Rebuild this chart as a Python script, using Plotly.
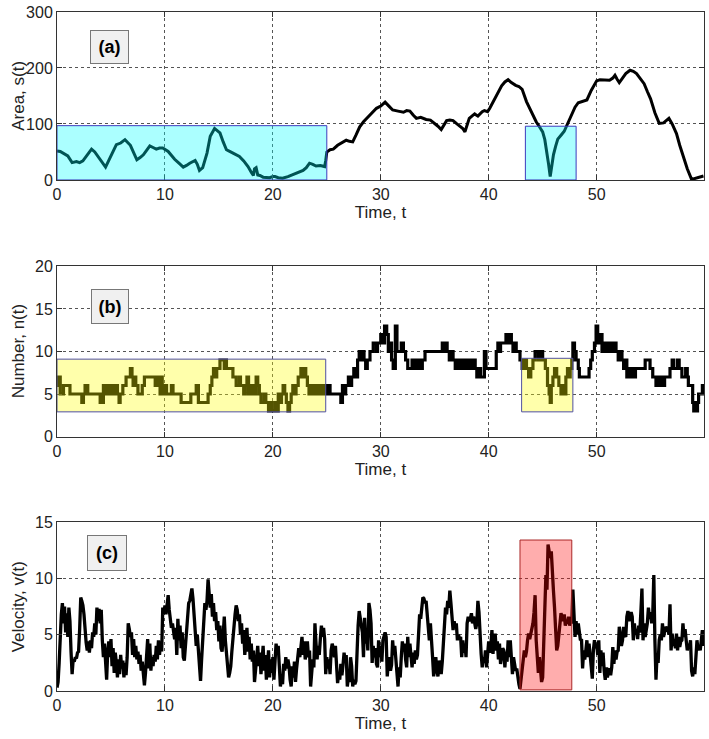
import plotly.graph_objects as go

# ---------------- Panel (a): area s(t) ----------------
area_t = [0, 0.3, 1.0, 1.4, 1.8, 2.1, 2.4, 2.8, 3.2, 3.5, 3.8, 4.2, 4.5, 4.8, 5.2, 5.5, 5.9, 6.3, 6.8, 7.1,
          7.4, 7.7, 8.0, 8.3, 8.6, 8.9, 9.2, 9.5, 9.8, 10.3, 10.6, 10.9, 11.3, 11.7, 12.0, 12.3, 12.8, 13.0,
          13.2, 13.5, 13.9, 14.2, 14.6, 15.1, 15.4, 15.7, 16.0, 16.3, 16.6, 16.9, 17.3, 17.7, 18.0, 18.2,
          18.3, 18.45, 18.6, 18.8, 19.1, 19.4, 19.7, 20.0, 20.2, 20.5, 20.9, 21.4, 21.9, 22.3, 22.8, 23.1,
          23.4, 23.7, 24.0, 24.4, 24.8, 24.9, 25.0, 25.3, 25.6, 26.0, 26.4, 26.8, 27.1, 27.4, 27.7, 28.05,
          28.4, 28.7, 29.2, 29.6, 30.0, 30.4, 30.8, 31.1, 31.6, 32.1, 32.4, 32.7, 33.0, 33.3, 33.7, 34.2,
          34.6, 35.0, 35.3, 35.6, 35.9, 36.1, 36.4, 36.7, 37.0, 37.3, 37.6, 37.8, 38.0, 38.2, 38.5, 38.7,
          39.0, 39.2, 39.4, 39.6, 39.9, 40.1, 40.5, 40.8, 41.2, 41.5, 41.8, 42.1, 42.5, 42.8, 43.1, 43.5,
          43.8, 44.1, 44.4, 44.7, 45.0, 45.2, 45.4, 45.55, 45.7, 45.85, 46.0, 46.2, 46.4, 46.7, 47.0, 47.3,
          47.7, 48.0, 48.3, 48.7, 49.1, 49.5, 50.0, 50.3, 50.6, 50.9, 51.2, 51.5, 51.7, 51.9, 52.1, 52.4,
          52.7, 53.1, 53.4, 53.7, 54.0, 54.4, 54.7, 55.0, 55.4, 55.8, 56.2, 56.7, 57.0, 57.4, 57.7, 58.0,
          58.4, 58.8, 59.1, 59.5, 59.9]
area_s = [52, 51, 43, 31, 33, 31, 34, 45, 55, 50, 42, 33, 23, 35, 51, 63, 66, 72, 62, 48,
          36, 40, 45, 53, 61, 58, 55, 57, 57, 51, 44, 37, 30, 23, 26, 30, 35, 28,
          17, 22, 48, 78, 92, 84, 68, 54, 51, 48, 46, 42, 34, 24, 14, 8,
          20, 22, 9, 8, 5, 4, 4, 6, 6, 4, 3, 6, 10, 13, 17, 22,
          30, 28, 25, 26, 24, 35, 50, 54, 55, 62, 67, 71, 69, 68, 80, 95,
          104, 110, 119, 128, 132, 139, 131, 125, 123, 121, 124, 123, 116, 110, 112, 108,
          107, 101, 96, 90, 100, 106, 107, 106, 101, 97, 92, 86, 98, 110, 115, 118,
          114, 119, 122, 124, 122, 128, 142, 154, 168, 175, 179, 174, 169, 167, 162, 140,
          127, 114, 104, 95, 86, 72, 50, 28, 6, 30, 45, 60, 73, 80, 87, 100,
          116, 130, 138, 140, 143, 160, 177, 179, 179, 178, 178, 182, 187, 180, 174, 182,
          190, 196, 194, 190, 182, 172, 158, 145, 120, 101, 102, 110, 100, 83, 62, 42,
          20, 1, 3, 5, 7]

# ---------------- Panel (b): number n(t) (step changes) ----------------
num_t = [0.0, 0.05, 0.15, 0.25, 0.3, 0.6, 1.2, 2.3, 2.45, 2.6, 2.85, 4.0, 4.1, 4.2, 4.3, 4.4, 4.6, 4.75,
         4.9, 5.0, 5.2, 5.35, 5.45, 5.6, 5.75, 5.85, 6.1, 6.4, 6.8, 6.95, 7.05, 7.2, 7.3, 7.5, 7.9, 8.1,
         9.1, 9.25, 9.4, 9.55, 9.65, 9.75, 9.9, 10.0, 10.15, 10.6, 10.75, 11.5, 12.4, 12.9, 13.1, 14.0,
         14.2, 14.35, 14.5, 14.65, 14.8, 15.1, 15.5, 15.6, 15.7, 16.3, 16.6, 16.9, 17.0, 17.3, 17.45,
         17.6, 17.75, 17.85, 18.0, 18.15, 18.3, 18.45, 18.6, 18.75, 18.9, 19.2, 19.35, 19.6, 19.75,
         19.9, 20.2, 20.35, 20.5, 20.65, 20.8, 20.95, 21.1, 21.25, 21.4, 21.55, 21.7, 21.85, 22.0,
         22.15, 22.35, 22.6, 22.75, 22.85, 23.05, 23.2, 23.35, 23.6, 23.75, 24.0, 24.2, 24.45, 24.6,
         24.85, 25.0, 25.2, 25.3, 26.3, 26.45, 26.6, 26.75, 27.0, 27.15, 27.3, 27.5, 27.65, 27.85,
         28.0, 28.15, 28.3, 28.45, 28.6, 28.75, 29.0, 29.3, 29.6, 29.7, 30.0, 30.2, 30.35, 30.55,
         30.7, 30.85, 31.0, 31.15, 31.35, 31.5, 31.9, 32.1, 32.3, 32.5, 32.9, 33.05, 33.2, 33.4,
         33.55, 33.7, 33.85, 34.1, 35.7, 35.85, 36.0, 36.15, 36.35, 36.55, 36.7, 36.9, 37.05, 37.25,
         37.45, 37.6, 37.8, 38.0, 38.2, 38.4, 38.6, 38.75, 38.9, 39.1, 39.25, 39.6, 39.75, 40.7,
         40.85, 41.0, 41.1, 41.6, 41.75, 41.95, 42.1, 42.25, 42.4, 42.55, 42.9, 43.1, 43.3, 43.5,
         43.7, 43.9, 44.1, 44.3, 44.6, 44.75, 45.0, 45.25, 45.45, 45.6, 45.7, 45.8, 45.95, 46.1,
         46.3, 46.5, 46.7, 46.85, 47.0, 47.15, 47.3, 47.45, 47.55, 47.7, 47.8, 47.95, 48.1, 48.3,
         48.4, 49.3, 49.45, 49.6, 49.8, 49.95, 50.1, 50.2, 50.35, 50.5, 50.65, 50.8, 50.95, 51.1,
         51.3, 51.45, 51.6, 51.8, 52.0, 52.2, 52.35, 52.5, 52.65, 52.8, 52.95, 53.15, 53.3, 53.45,
         53.6, 54.5, 54.95, 55.2, 55.5, 55.65, 55.8, 55.95, 56.1, 56.3, 56.8, 57.0, 57.15, 57.4,
         57.5, 57.65, 57.9, 58.25, 58.4, 58.5, 58.9, 59.0, 59.1, 59.2, 59.35, 59.45, 59.8, 59.95]
num_n = [6, 7, 6, 7, 5, 6, 5, 4, 5, 6, 5, 4, 5, 4, 6, 5, 6, 5,
         6, 5, 6, 5, 6, 5, 4, 5, 6, 7, 8, 7, 6, 7, 6, 5, 6, 7,
         6, 7, 6, 5, 7, 6, 5, 6, 5, 6, 5, 4, 5, 6, 4, 5,
         6, 7, 8, 7, 8, 9, 8, 9, 8, 7, 6, 7, 6, 5, 6,
         7, 5, 6, 5, 6, 5, 7, 6, 5, 4, 5, 4, 3, 4,
         3, 4, 3, 5, 4, 5, 6, 5, 4, 3, 4, 5, 6, 5,
         6, 7, 8, 7, 8, 7, 6, 5, 6, 5, 6, 5, 6, 5,
         6, 5, 6, 5, 4, 6, 5, 6, 7, 6, 7, 8, 7, 9,
         10, 9, 10, 9, 8, 9, 10, 11, 10, 11, 12, 11, 13, 12,
         10, 11, 9, 8, 13, 10, 11, 10, 9, 8, 9, 8, 9, 8,
         9, 8, 9, 10, 11, 10, 11, 10, 9, 10, 9, 8, 9, 8,
         9, 8, 9, 8, 9, 8, 9, 8, 7, 8, 7, 10, 8, 10,
         11, 10, 11, 12, 11, 12, 11, 10, 11, 10, 9, 8, 9, 8,
         7, 8, 9, 10, 9, 10, 9, 8, 6, 5, 4, 6, 7, 8,
         7, 6, 5, 6, 5, 7, 8, 7, 8, 9, 11, 10, 9, 8,
         7, 8, 9, 10, 11, 13, 12, 11, 12, 10, 11, 10, 11, 10,
         11, 10, 11, 10, 9, 10, 9, 8, 9, 7, 8, 7, 8, 7,
         8, 9, 8, 7, 6, 7, 6, 7, 6, 7, 8, 9, 8, 8,
         9, 8, 7, 8, 7, 6, 4, 3, 4, 3, 4, 5, 6, 6]

# ---------------- Panel (c): velocity v(t), sampled every 0.1 ----------------
vel_step = 0.1
vel_v = [
    0.3, 0.8, 2.5, 5.0, 6.8, 7.8, 6.0, 7.5, 5.2, 6.9, 4.8, 7.4, 6.2, 3.5, 1.5, 2.8, 2.6, 3.0, 2.9, 3.4,
    3.5, 5.5, 8.3, 8.0, 7.6, 6.8, 5.2, 4.3, 3.6, 4.4, 3.4, 4.5, 3.8, 5.2, 4.8, 6.0, 5.0, 7.4, 6.2, 7.3,
    6.0, 7.2, 4.5, 3.0, 4.2, 2.0, 1.0, 3.5, 4.4, 3.0, 4.6, 2.2, 3.8, 1.6, 3.4, 2.5, 1.2, 2.8, 1.5, 3.2,
    2.0, 2.7, 1.2, 2.5, 1.4, 3.0, 6.0, 5.5, 4.8, 5.2, 3.2, 4.6, 3.0, 4.0, 2.8, 3.5, 2.4, 3.2, 1.8, 2.6,
    1.0, 0.5, 1.6, 3.0, 4.6, 2.0, 4.2, 1.8, 3.0, 2.2, 3.2, 2.6, 4.0, 2.8, 4.5, 3.2, 4.4, 3.5, 7.4, 6.8,
    7.6, 6.8, 8.0, 8.5, 7.2, 6.5, 5.6, 6.0, 5.0, 4.6, 5.6, 3.2, 6.4, 4.5, 5.8, 3.8, 5.2, 3.0, 2.7, 3.8,
    5.0, 6.2, 7.8, 8.0, 8.6, 9.1, 8.2, 7.0, 5.5, 4.0, 5.0, 3.2, 2.0, 0.9, 2.8, 4.5, 6.0, 7.8, 7.2, 8.0,
    9.9, 8.0, 7.4, 8.6, 6.6, 7.8, 6.2, 7.0, 5.4, 6.2, 4.4, 5.8, 3.8, 3.5, 5.0, 6.6, 4.5, 3.6, 2.5, 1.2,
    1.6, 2.2, 3.5, 4.8, 6.0, 6.8, 7.6, 7.2, 6.2, 6.8, 5.0, 6.0, 4.2, 5.4, 3.2, 4.8, 5.6, 3.5, 4.8, 2.8,
    4.2, 2.6, 3.6, 0.8, 1.8, 3.0, 4.0, 2.2, 3.4, 1.5, 2.8, 4.0, 1.8, 3.2, 1.0, 2.5, 3.6, 1.2, 2.8, 1.6,
    3.0, 1.0, 2.6, 4.2, 3.4, 4.0, 2.2, 0.4, 1.3, 0.6, 2.4, 1.8, 3.0, 2.0, 2.8, 2.2, 1.0, 0.4, 2.2, 1.2,
    2.6, 0.8, 2.0, 2.8, 3.8, 3.0, 4.0, 4.8, 3.2, 4.4, 2.8, 3.4, 4.4, 3.0, 3.6, 0.4, 1.8, 2.8, 2.1, 6.0,
    4.2, 2.8, 4.0, 3.2, 4.6, 5.8, 4.8, 5.6, 4.6, 1.5, 3.0, 2.0, 2.8, 1.5, 3.6, 4.2, 3.8, 3.0, 4.0, 2.4,
    0.7, 1.5, 1.0, 2.4, 1.4, 2.3, 3.4, 2.6, 3.2, 0.4, 1.2, 0.8, 3.0, 2.2, 0.4, 1.0, 0.6, 0.9, 4.5, 5.8,
    7.1, 6.4, 6.0, 5.2, 3.0, 6.5, 4.2, 5.4, 3.6, 7.8, 7.2, 6.0, 2.5, 4.0, 3.0, 3.8, 2.4, 2.1, 4.5, 3.0,
    4.0, 2.6, 4.5, 5.0, 5.2, 4.8, 1.3, 2.5, 3.0, 1.8, 2.3, 4.5, 3.2, 4.0, 2.8, 1.4, 0.4, 2.1, 1.2, 3.0,
    4.4, 3.5, 4.2, 2.8, 2.1, 4.8, 3.0, 4.2, 2.6, 2.1, 3.4, 2.4, 3.6, 2.8, 3.2, 5.6, 6.8, 6.4, 7.4, 8.3,
    8.2, 7.8, 8.0, 6.5, 5.2, 4.5, 6.0, 4.8, 3.0, 1.3, 2.5, 3.0, 1.8, 1.3, 2.7, 2.2, 1.5, 2.6, 4.5, 6.0,
    7.4, 6.8, 8.0, 7.4, 8.9, 7.8, 6.0, 5.4, 6.2, 5.6, 6.0, 4.5, 5.0, 4.6, 4.8, 3.0, 4.5, 3.4, 4.2, 3.0,
    6.0, 6.6, 6.2, 6.4, 6.9, 6.0, 6.6, 6.2, 5.5, 6.0, 8.0, 7.0, 4.5, 3.3, 2.1, 3.0, 2.5, 3.6, 2.1, 3.2,
    4.4, 3.4, 4.0, 5.4, 3.3, 4.6, 5.1, 3.6, 4.4, 2.8, 4.2, 2.4, 3.4, 3.8, 3.6, 2.1, 3.5, 2.6, 4.5, 3.0,
    4.5, 3.2, 1.5, 3.0, 2.2, 1.8, 2.0, 1.0, 0.6, 0.2, 1.0, 2.2, 2.8, 3.6, 3.0, 3.5, 4.5, 5.1, 4.6, 5.0,
    5.5, 6.0, 7.0, 8.5, 4.5, 2.6, 1.6, 3.0, 1.8, 0.8, 1.2, 4.0, 7.4, 10.3, 9.0, 13.0, 12.4, 11.8, 12.4, 10.0,
    8.9, 7.4, 5.0, 3.6, 4.0, 4.8, 6.0, 6.9, 6.6, 6.2, 6.8, 5.8, 6.2, 6.0, 6.6, 5.8, 6.4, 6.0, 9.0, 7.0,
    4.8, 6.2, 5.0, 6.0, 4.8, 4.5, 4.6, 2.0, 3.6, 2.8, 3.6, 4.5, 3.0, 4.2, 3.2, 2.4, 1.1, 3.6, 4.5, 3.8,
    4.2, 3.2, 4.5, 1.6, 3.6, 2.2, 3.4, 1.8, 1.0, 2.1, 1.2, 1.8, 2.0, 1.4, 2.1, 3.9, 2.4, 3.6, 2.8, 3.5,
    3.6, 5.7, 4.8, 4.0, 4.5, 5.7, 5.0, 4.8, 6.6, 7.1, 6.2, 6.8, 7.0, 6.6, 4.5, 6.0, 5.0, 5.5, 4.6, 5.8,
    5.2, 7.0, 9.1, 4.5, 6.0, 4.8, 5.5, 6.0, 7.4, 6.4, 7.0, 6.0, 6.8, 10.3, 4.5, 1.0, 3.2, 2.5, 4.5, 5.0,
    4.5, 6.0, 4.8, 5.4, 5.7, 5.5, 5.6, 5.0, 7.7, 3.6, 5.1, 4.0, 4.6, 3.8, 5.1, 3.6, 4.8, 3.9, 4.4, 4.5,
    6.0, 4.8, 5.5, 4.5, 3.6, 4.2, 3.8, 4.5, 1.8, 1.3, 2.1, 1.5, 3.3, 4.5, 3.6, 4.0, 3.6, 4.6, 5.4, 4.0,
]
vel_t = [round(i * vel_step, 2) for i in range(len(vel_v))]

# ---------------- Highlight windows ----------------
area_boxes = [(0, 25, 0, 97), (43.4, 48.1, 0, 96)]
num_boxes = [(0, 24.9, 2.9, 9.1), (43.05, 47.8, 2.9, 9.2)]
vel_boxes = [(42.9, 47.7, 0.1, 13.4)]

x_ticks = [0, 10, 20, 30, 40, 50]
panel_labels = ["(a)", "(b)", "(c)"]
y_titles = ["Area, s(t)", "Number, n(t)", "Velocity, v(t)"]

FONT = "Liberation Sans, Arial, sans-serif"
domains = [(0.7526, 1.0), (0.3748, 0.6252), (0.0, 0.2489)]

fig = go.Figure()
fig.add_trace(go.Scatter(x=area_t, y=area_s, mode="lines", line=dict(color="black", width=3),
                         xaxis="x", yaxis="y", showlegend=False))
fig.add_trace(go.Scatter(x=num_t, y=num_n, mode="lines", line=dict(color="black", width=3.2, shape="hv"),
                         xaxis="x2", yaxis="y2", showlegend=False))
fig.add_trace(go.Scatter(x=vel_t, y=vel_v, mode="lines", line=dict(color="black", width=3.3),
                         xaxis="x3", yaxis="y3", showlegend=False))

shapes = []
for x0, x1, y0, y1 in area_boxes:
    shapes.append(dict(type="rect", xref="x", yref="y", x0=x0, x1=x1, y0=y0, y1=y1,
                       fillcolor="rgba(0,255,255,0.33)", line=dict(color="rgb(60,60,190)", width=1), layer="above"))
for x0, x1, y0, y1 in num_boxes:
    shapes.append(dict(type="rect", xref="x2", yref="y2", x0=x0, x1=x1, y0=y0, y1=y1,
                       fillcolor="rgba(255,255,0,0.33)", line=dict(color="rgb(80,80,160)", width=1), layer="above"))
for x0, x1, y0, y1 in vel_boxes:
    shapes.append(dict(type="rect", xref="x3", yref="y3", x0=x0, x1=x1, y0=y0, y1=y1,
                       fillcolor="rgba(255,0,0,0.32)", line=dict(color="rgb(170,40,40)", width=1), layer="above"))

label_pos = [("x", "y", 4.9, 238, 37, 32), ("x2", "y2", 4.94, 15.3, 36, 33), ("x3", "y3", 4.6, 12.25, 38, 34)]
annotations = []
for (xr, yr, xv, yv, w, h), txt in zip(label_pos, panel_labels):
    annotations.append(dict(xref=xr, yref=yr, x=xv, y=yv, text="<b>%s</b>" % txt, showarrow=False,
                            font=dict(family=FONT, size=18, color="black"), bgcolor="#f0f0f0",
                            bordercolor="#777777", borderwidth=1, borderpad=0, width=w, height=h))
for (d0, d1), title in zip(domains, y_titles):
    annotations.append(dict(xref="paper", yref="paper", x=-0.059, y=(d0 + d1) / 2, text=title,
                            textangle=-90, showarrow=False, xanchor="center", yanchor="middle",
                            font=dict(family=FONT, size=17, color="#222")))

def xaxis(anchor):
    return dict(domain=[0, 1], anchor=anchor, range=[0, 59.95], tickvals=x_ticks,
                showline=True, mirror="ticks", linecolor="#333", linewidth=1, ticks="inside", ticklen=5,
                tickcolor="#333", showgrid=True, gridcolor="#555", griddash="dot", gridwidth=1,
                zeroline=False, tickfont=dict(family=FONT, size=16, color="#222"),
                title=dict(text="Time, t", font=dict(family=FONT, size=17, color="#222"), standoff=2))

def yaxis(anchor, dom, rng, ticks):
    return dict(domain=list(dom), anchor=anchor, range=rng, tickvals=ticks,
                showline=True, mirror="ticks", linecolor="#333", linewidth=1, ticks="inside", ticklen=5,
                tickcolor="#333", showgrid=True, gridcolor="#555", griddash="dot", gridwidth=1,
                zeroline=False, tickfont=dict(family=FONT, size=16, color="#222"))

fig.update_layout(
    width=709, height=739,
    margin=dict(l=57, r=4, t=8, b=48),
    paper_bgcolor="white", plot_bgcolor="white",
    xaxis=xaxis("y"), yaxis=yaxis("x", domains[0], [0, 300], [0, 100, 200, 300]),
    xaxis2=xaxis("y2"), yaxis2=yaxis("x2", domains[1], [0, 20], [0, 5, 10, 15, 20]),
    xaxis3=xaxis("y3"), yaxis3=yaxis("x3", domains[2], [0, 15], [0, 5, 10, 15]),
    shapes=shapes, annotations=annotations,
)

fig.write_html("out.html")
